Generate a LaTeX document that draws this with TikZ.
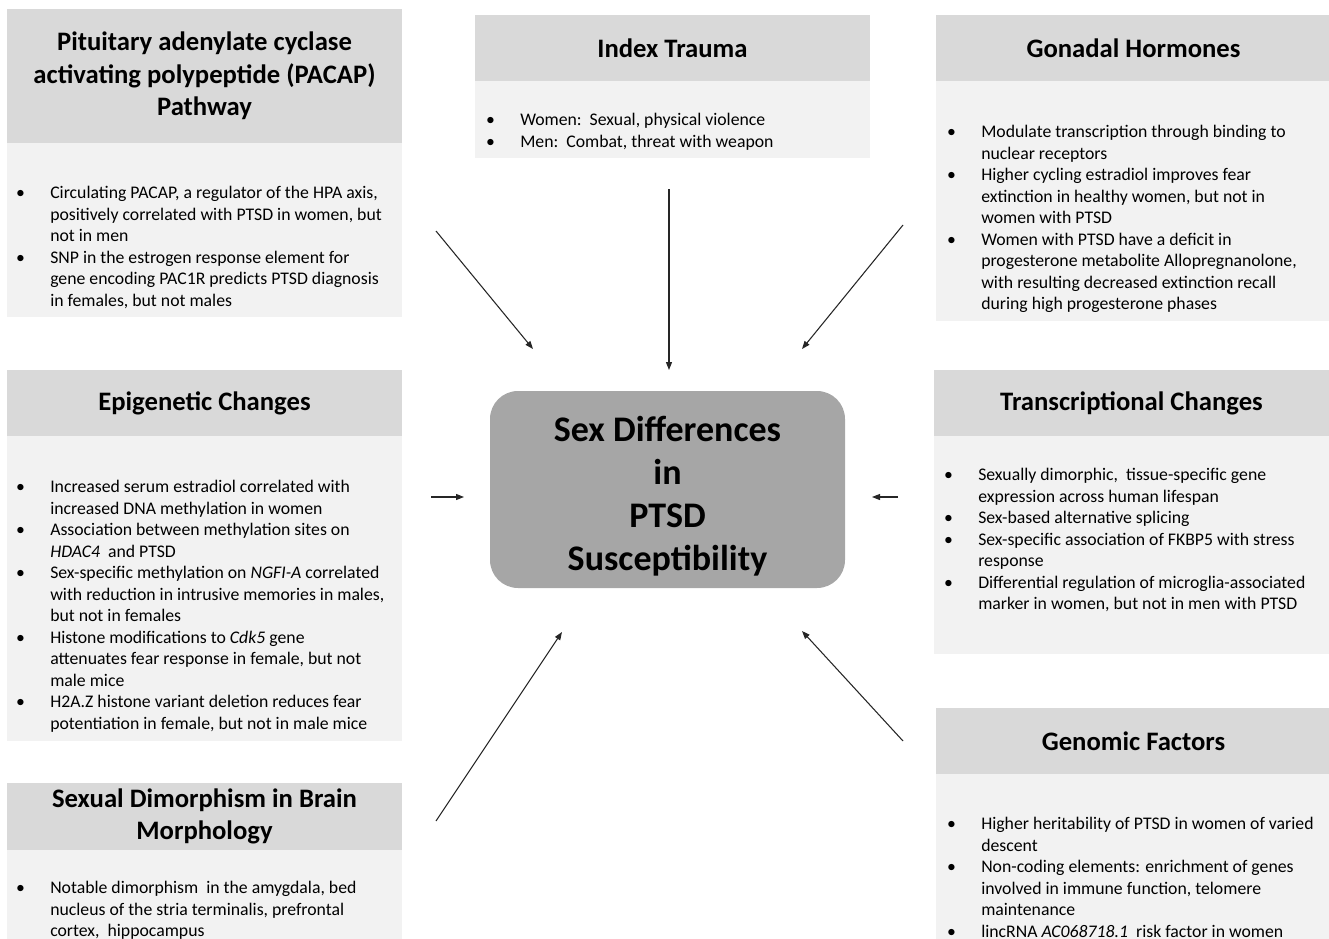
\documentclass[tikz,border=0pt]{standalone}
\usepackage{fontspec}
\setmainfont{Carlito}
\usetikzlibrary{positioning,arrows.meta}
\definecolor{headgray}{HTML}{D9D9D9}
\definecolor{panelgray}{HTML}{F2F2F2}
\definecolor{coregray}{HTML}{A6A6A6}
\definecolor{linegray}{HTML}{262626}
\newcommand{\itm}{\llap{\textbullet\hspace{19pt}}}

\begin{document}
\begin{tikzpicture}[x=0.75pt,y=-0.75pt,
    head/.style={fill=headgray,minimum width=296.25pt,inner sep=0,outer sep=0,align=center,font=\bfseries\fontsize{20}{24.5}\selectfont},
    panel/.style={fill=panelgray,minimum width=296.25pt,inner sep=0,outer sep=0},
    txt/.style={anchor=north west,inner sep=0,align=left,font=\fontsize{13.3}{16.1}\selectfont,execute at begin node=\rule{0pt}{11pt}},
    core/.style={fill=coregray,rounded corners=21pt,minimum width=266.25pt,minimum height=147.75pt},
    coretxt/.style={align=center,inner sep=0,font=\bfseries\fontsize{27}{32.3}\selectfont},
    link/.style={-{Triangle[length=6pt,width=4.5pt]},line width=0.8pt,linegray}]
      \useasboundingbox (0,0) rectangle (1329,939);
      \node[head,minimum height=100.5pt] (pacaphead) at (204.5,76) {Pituitary adenylate cyclase\\activating polypeptide (PACAP)\\Pathway};
      \node[panel,minimum height=130.5pt,below=0pt of pacaphead] (pacapbody) {};
      \node[head,minimum height=49.5pt] (traumahead) at (672.5,48) {Index Trauma};
      \node[panel,minimum height=57.75pt,below=0pt of traumahead] (traumabody) {};
      \node[head,minimum height=49.5pt] (hormonehead) at (1133.5,48) {Gonadal Hormones};
      \node[panel,minimum height=180pt,below=0pt of hormonehead] (hormonebody) {};
      \node[head,minimum height=49.5pt] (epihead) at (204.5,403) {Epigenetic Changes};
      \node[panel,minimum height=228.75pt,below=0pt of epihead] (epibody) {};
      \node[head,minimum height=49.5pt] (transhead) at (1131.5,403) {Transcriptional Changes};
      \node[panel,minimum height=163.5pt,below=0pt of transhead] (transbody) {};
      \node[head,minimum height=50.25pt] (brainhead) at (204.5,816.5) {Sexual Dimorphism in Brain\\Morphology};
      \node[panel,minimum height=82.5pt,below=0pt of brainhead] (brainbody) {};
      \node[head,minimum height=49.5pt] (genomehead) at (1133.5,741) {Genomic Factors};
      \node[panel,minimum height=139.5pt,below=0pt of genomehead] (genomebody) {};
      \node[core] (ptsd) at (667.5,489.5) {};
      \node[coretxt] (ptsdlabel) at ([yshift=-5pt]ptsd.center) {Sex Differences\\in\\PTSD\\Susceptibility};

      \node[txt] (pacaptext) at (50,186.3) {\itm Circulating PACAP, a regulator of the HPA axis,\\positively correlated with PTSD in women, but\\not in men\\\itm SNP in the estrogen response element for\\gene encoding PAC1R predicts PTSD diagnosis\\in females, but not males};
      \node[txt] (traumatext) at (520,113.3) {\itm Women:\ \ Sexual, physical violence\\\itm Men:\ \ Combat, threat with weapon};
      \node[txt] (hormonetext) at (981,125.3) {\itm Modulate transcription through binding to\\nuclear receptors\\\itm Higher cycling estradiol improves fear\\extinction in healthy women, but not in\\women with PTSD\\\itm Women with PTSD have a deficit in\\progesterone metabolite Allopregnanolone,\\with resulting decreased extinction recall\\during high progesterone phases};
      \node[txt] (epitext) at (50,480.3) {\itm Increased serum estradiol correlated with\\increased DNA methylation in women\\\itm Association between methylation sites on\\\textit{HDAC4}\ \ and PTSD\\\itm Sex-specific methylation on \textit{NGFI-A} correlated\\with reduction in intrusive memories in males,\\but not in females\\\itm Histone modifications to \textit{Cdk5} gene\\attenuates fear response in female, but not\\male mice\\\itm H2A.Z histone variant deletion reduces fear\\potentiation in female, but not in male mice};
      \node[txt] (transtext) at (978,468.3) {\itm Sexually dimorphic,\ \ tissue-specific gene\\expression across human lifespan\\\itm Sex-based alternative splicing\\\itm Sex-specific association of FKBP5 with stress\\response\\\itm Differential regulation of microglia-associated\\marker in women, but not in men with PTSD};
      \node[txt] (braintext) at (50,881.3) {\itm Notable dimorphism\ \ in the amygdala, bed\\nucleus of the stria terminalis, prefrontal\\cortex,\ \ hippocampus};
      \node[txt] (genometext) at (981,817.3) {\itm Higher heritability of PTSD in women of varied\\descent\\\itm Non-coding elements: enrichment of genes\\involved in immune function, telomere\\maintenance\\\itm lincRNA \textit{AC068718.1}\ \ risk factor in women};

      \coordinate (pacapfrom) at (436,231);
      \coordinate (pacapto) at (533,349);
      \coordinate (traumafrom) at (669,189);
      \coordinate (traumato) at (669,370);
      \coordinate (hormonefrom) at (903,225);
      \coordinate (hormoneto) at (802,349);
      \coordinate (epifrom) at (431,497);
      \coordinate (epito) at (464,497);
      \coordinate (transfrom) at (898,497);
      \coordinate (transto) at (872,497);
      \coordinate (brainfrom) at (436,821);
      \coordinate (brainto) at (562,632);
      \coordinate (genomefrom) at (903,741);
      \coordinate (genometo) at (802,631);
      \draw[link] (pacapfrom) -- (pacapto);
      \draw[link] (traumafrom) -- (traumato);
      \draw[link] (hormonefrom) -- (hormoneto);
      \draw[link] (epifrom) -- (epito);
      \draw[link] (transfrom) -- (transto);
      \draw[link] (brainfrom) -- (brainto);
      \draw[link] (genomefrom) -- (genometo);
    \end{tikzpicture}
\end{document}
